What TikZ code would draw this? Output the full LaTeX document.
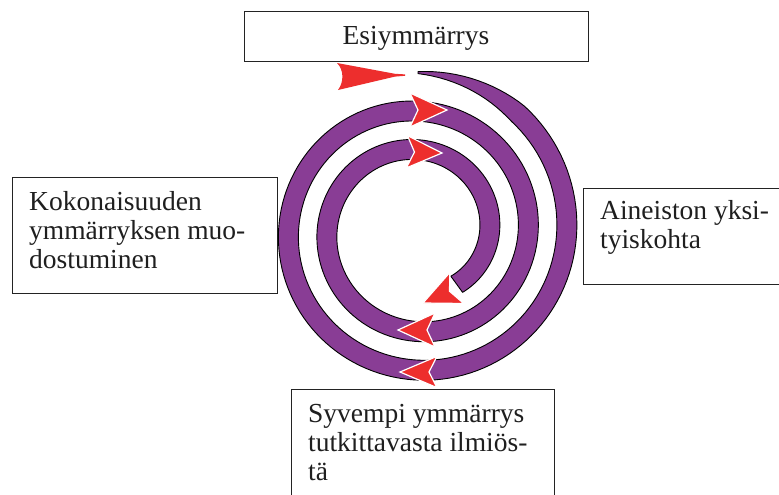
\documentclass[tikz,border=0pt]{standalone}
\usepackage{fontspec}
\setmainfont{Liberation Serif}
\definecolor{bandpurple}{RGB}{137,61,149}
\definecolor{arrowred}{RGB}{237,46,45}
\definecolor{boxline}{RGB}{35,35,35}
\begin{document}
\begin{tikzpicture}[x=1pt,y=-1pt,
  labelbox/.style={draw=boxline, line width=1.4pt, fill=white, inner sep=0pt, anchor=north west},
  labeltext/.style={inner sep=0pt, align=left, text=black!88,
    font=\fontsize{27.5}{29}\selectfont},
  band/.style={fill=bandpurple, draw=black, line width=0.9pt, line join=round},
  stealtharrow/.pic={
    \fill[arrowred, draw=white, line width=1.2pt, line join=miter]
      (0,0) -- (-37,17) -- (-29,0) -- (-37,-17) -- cycle;
  }
]
\useasboundingbox (0,0) rectangle (779,495);

% label boxes
\node[labelbox, minimum width=344pt, minimum height=50pt]  (preBox)   at (244,11)  {};
\node[labelbox, minimum width=265pt, minimum height=116pt] (wholeBox) at (12,177)  {};
\node[labelbox, minimum width=210pt, minimum height=96pt]  (partBox)  at (583,188) {};
\node[labelbox, minimum width=263pt, minimum height=120pt] (deepBox)  at (291,389) {};

% box texts
\node[labeltext, anchor=base] (preText) at (416,45) {Esiymmärrys};
\node[labeltext, anchor=north west] (wholeText) at (29,191)
  {Kokonaisuuden\\ymmärryksen muo-\\dostuminen};
\node[labeltext, anchor=north west] (partText) at (600,200)
  {Aineiston yksi-\\tyiskohta};
\node[labeltext, anchor=north west] (deepText) at (308,404.5)
  {Syvempi ymmärrys\\tutkittavasta ilmiös-\\tä};

% spiral band: centre (418,231), radius shrinking about 38.6 per turn,
% tapered at its outer start
\filldraw[band]
  plot[domain=0:864, samples=320, variable=\t]
    ({418+(158.4-0.1071*\t+0.5*min(20,2+0.45*\t))*sin(\t)},
     {231-(158.4-0.1071*\t+0.5*min(20,2+0.45*\t))*cos(\t)})
  -- plot[domain=864:0, samples=320, variable=\t]
    ({418+(158.4-0.1071*\t-0.5*min(20,2+0.45*\t))*sin(\t)},
     {231-(158.4-0.1071*\t-0.5*min(20,2+0.45*\t))*cos(\t)})
  -- cycle;

% entry dart at the top
\fill[arrowred] (337,63) -- (395,73.8) -- (405,74.4) -- (405,75.8) -- (395,76.6)
  -- (338,90) .. controls (344,82) and (344,70) .. (337,63) -- cycle;

% direction marks along the spiral
\pic[rotate=0]                 at (447,110) {stealtharrow};
\pic[rotate=-2, scale=0.95]    at (442,153) {stealtharrow};
\pic[rotate=180]               at (398,330) {stealtharrow};
\pic[rotate=180, yscale=0.92]  at (400,372) {stealtharrow};
\pic[rotate=204]               at (423,303) {stealtharrow};
\end{tikzpicture}
\end{document}
